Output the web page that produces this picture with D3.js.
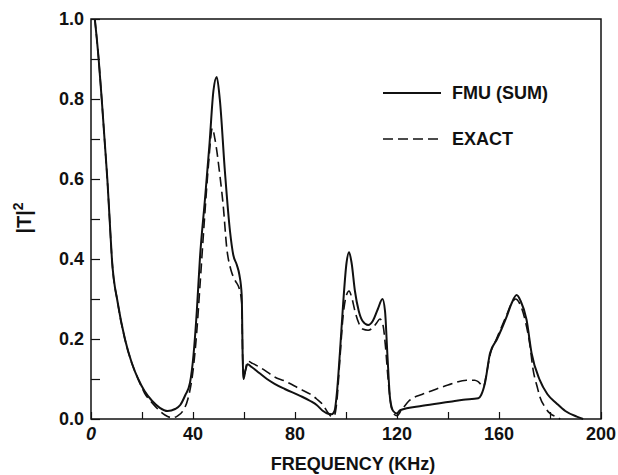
<!DOCTYPE html>
<html>
<head>
<meta charset="utf-8">
<script src="https://cdn.jsdelivr.net/npm/d3@7"></script>
<style>
  body { margin: 0; background: #fff; }
  svg text { font-family: "Liberation Sans", Arial, sans-serif; font-weight: bold; fill: #111; }
</style>
</head>
<body>
<div id="chart"></div>
<script>
// FMU (SUM) curve
var fmuFreq = [1.5, 3, 4.2, 5.3, 6.4, 7.3, 8.2, 10.5, 13.3, 16, 18.5, 21, 24, 27, 30, 33, 35, 37, 38.8, 40.2,
    41.5, 42.7, 44.7, 46.5, 48, 49.3, 50.5, 52.5, 54.5, 55.8, 57.2, 58.2, 59.1, 59.5, 59.8, 60.5, 61.4, 63,
    66, 69, 72, 76, 82, 86, 88.5, 91, 93, 94.4, 95.5, 96.5, 97.6, 98.9, 100.2, 101.2, 102.2, 103.5, 105,
    106.5, 108.7, 110.5, 112.5, 114.3, 115.3, 116.2, 117.3, 118.5, 119.9, 121.2, 130, 140.8, 146, 151.9,
    153, 154.5, 156.5, 159.1, 161, 163, 165, 166.9, 168.5, 170.8, 172.8, 176, 179, 182.6, 186, 190.5, 193];
var fmuT2 = [1.0, 0.9, 0.8, 0.7, 0.6, 0.5, 0.4, 0.29, 0.2, 0.14, 0.1, 0.07, 0.045, 0.028, 0.02, 0.025, 0.035, 0.06, 0.09, 0.16,
    0.27, 0.40, 0.55, 0.69, 0.82, 0.855, 0.80, 0.62, 0.47, 0.41, 0.385, 0.36, 0.31, 0.15, 0.10, 0.12, 0.137, 0.13,
    0.115, 0.10, 0.088, 0.075, 0.058, 0.045, 0.035, 0.02, 0.013, 0.012, 0.02, 0.07, 0.165, 0.29, 0.39, 0.417, 0.39, 0.32, 0.27,
    0.245, 0.235, 0.245, 0.275, 0.30, 0.27, 0.165, 0.05, 0.02, 0.014, 0.022, 0.033, 0.043, 0.048, 0.052,
    0.06, 0.09, 0.165, 0.198, 0.225, 0.256, 0.29, 0.31, 0.295, 0.248, 0.164, 0.097, 0.062, 0.039, 0.02, 0.006, 0.0];

// EXACT curve
var exactFreq = [1.5, 3, 4.2, 5.3, 6.4, 7.3, 8.2, 10.5, 13.3, 16, 18.5, 21, 24, 27, 29, 32, 34, 36, 38, 40,
    41.5, 42.7, 44.5, 46, 47.6, 48.6, 50.6, 51.9, 53.2, 55, 56.5, 58.4, 59.1, 59.5, 59.8, 60.5, 61.4, 63,
    66, 69, 72, 76, 82, 86, 88.5, 91, 93, 94.4, 95.5, 96.5, 97.6, 98.9, 100.2, 101.2, 102.2, 103.5, 105,
    106.5, 108.7, 110.5, 112, 113.3, 114.5, 115.5, 116.5, 117.5, 118.5, 120, 121.5, 125, 130, 134.2, 140,
    147.3, 150.5, 151.9, 153.9, 155, 156.5, 159, 161, 163, 165, 166.5, 168, 170.5, 172, 173.4, 175, 176,
    178, 180, 182.6, 184];
var exactT2 = [1.0, 0.9, 0.8, 0.7, 0.6, 0.5, 0.4, 0.29, 0.2, 0.14, 0.1, 0.065, 0.04, 0.02, 0.01, 0.003, 0.008, 0.02, 0.05, 0.12,
    0.22, 0.33, 0.5, 0.63, 0.727, 0.70, 0.606, 0.53, 0.43, 0.37, 0.347, 0.32, 0.29, 0.15, 0.10, 0.12, 0.145, 0.14,
    0.13, 0.118, 0.105, 0.095, 0.075, 0.062, 0.05, 0.035, 0.015, 0.006, 0.01, 0.05, 0.15, 0.26, 0.31, 0.32, 0.305, 0.27, 0.24,
    0.225, 0.222, 0.228, 0.24, 0.25, 0.235, 0.18, 0.1, 0.04, 0.015, 0.008, 0.02, 0.047, 0.062, 0.072, 0.085,
    0.097, 0.097, 0.093, 0.081, 0.11, 0.16, 0.2, 0.23, 0.26, 0.29, 0.30, 0.29, 0.24, 0.19, 0.122, 0.08, 0.056,
    0.03, 0.014, 0.005, 0.0];

var xTicks = [0, 20, 40, 60, 80, 100, 120, 140, 160, 180, 200];
var xLabels = [0, 40, 80, 120, 160, 200];
var yTicks = [0, 0.1, 0.2, 0.3, 0.4, 0.5, 0.6, 0.7, 0.8, 0.9, 1.0];
var yLabels = [0, 0.2, 0.4, 0.6, 0.8, 1.0];
var seriesNames = ["FMU (SUM)", "EXACT"];

var W = 618, H = 475;
var margin = {top: 19, right: 17, bottom: 56, left: 91};
var w = W - margin.left - margin.right,
    h = H - margin.top - margin.bottom;

var svg = d3.select("#chart").append("svg")
    .attr("width", W)
    .attr("height", H);

var g = svg.append("g")
    .attr("transform", "translate(" + margin.left + "," + margin.top + ")");

var x = d3.scaleLinear().domain([0, 200]).range([0, w]);
var y = d3.scaleLinear().domain([0, 1]).range([h, 0]);

// frame
g.append("rect")
    .attr("width", w).attr("height", h)
    .attr("fill", "none").attr("stroke", "#111").attr("stroke-width", 1.5);

// x ticks (inward), labels every 40
g.append("g")
    .attr("transform", "translate(0," + h + ")")
    .call(d3.axisBottom(x).tickValues(xTicks).tickSize(-7).tickFormat(""))
    .call(function(s) { s.select(".domain").remove(); s.selectAll("line").attr("stroke", "#111").attr("stroke-width", 1.2); });

g.selectAll(".xlab")
    .data(xLabels)
    .enter().append("text")
    .attr("x", function(d) { return x(d); })
    .attr("y", h + 21)
    .attr("text-anchor", "middle")
    .style("font-size", "18px")
    .style("font-style", function(d) { return d === 0 ? "italic" : "normal"; })
    .text(function(d) { return d; });

// y ticks (inward), minor every 0.1
g.append("g")
    .call(d3.axisLeft(y).tickValues(yTicks).tickSize(-9).tickFormat(""))
    .call(function(s) { s.select(".domain").remove(); s.selectAll("line").attr("stroke", "#111").attr("stroke-width", 1.2); });

g.selectAll(".ylab")
    .data(yLabels)
    .enter().append("text")
    .attr("x", -7)
    .attr("y", function(d) { return y(d); })
    .attr("dy", "0.36em")
    .attr("text-anchor", "end")
    .style("font-size", "18px")
    .text(function(d) { return d.toFixed(1); });

var line = d3.line()
    .x(function(d) { return x(d[0]); })
    .y(function(d) { return y(d[1]); })
    .curve(d3.curveMonotoneX);

var exactData = d3.zip(exactFreq, exactT2);
var fmuData = d3.zip(fmuFreq, fmuT2);

g.append("path")
    .datum(exactData)
    .attr("d", line)
    .attr("fill", "none")
    .attr("stroke", "#111")
    .attr("stroke-width", 1.6)
    .attr("stroke-dasharray", "10,5");

g.append("path")
    .datum(fmuData)
    .attr("d", line)
    .attr("fill", "none")
    .attr("stroke", "#111")
    .attr("stroke-width", 2);

// legend
var leg = svg.append("g");
seriesNames.forEach(function(name, i) {
    var ly = 93 + i * 46;
    leg.append("line")
        .attr("x1", 383).attr("x2", 441)
        .attr("y1", ly).attr("y2", ly)
        .attr("stroke", "#111")
        .attr("stroke-width", i === 0 ? 2 : 1.6)
        .attr("stroke-dasharray", i === 0 ? null : "10,5");
    leg.append("text")
        .attr("x", 452).attr("y", ly)
        .attr("dy", "0.36em")
        .style("font-size", "18px")
        .text(name);
});

// axis titles
svg.append("text")
    .attr("x", margin.left + w / 2 + 7)
    .attr("y", H - 5)
    .attr("text-anchor", "middle")
    .style("font-size", "18px")
    .text("FREQUENCY (KHz)");

svg.append("text")
    .attr("transform", "translate(31,218) rotate(-90)")
    .attr("text-anchor", "middle")
    .style("font-size", "20px")
    .html('|T|<tspan dy="-8" style="font-size:14px">2</tspan>');
</script>
</body>
</html>
